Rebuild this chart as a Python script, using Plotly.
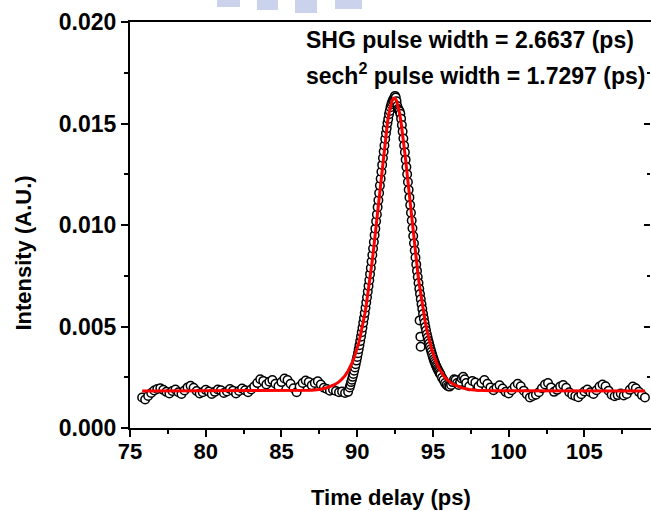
import plotly.graph_objects as go

# ---------------- data (intensity in units of 1e-5 A.U.) ----------------
time_ps = [
    75.8, 76.0, 76.2, 76.4, 76.6, 76.8, 77.0, 77.2, 77.4, 77.6, 77.8, 78.0, 78.2, 78.4, 78.6, 78.8,
    79.0, 79.2, 79.4, 79.6, 79.8, 80.0, 80.2, 80.4, 80.6, 80.8, 81.0, 81.2, 81.4, 81.6, 81.8, 82.0,
    82.2, 82.4, 82.6, 82.8, 83.0, 83.2, 83.4, 83.6, 83.8, 84.0, 84.2, 84.4, 84.6, 84.8, 85.0, 85.2,
    85.4, 85.6, 85.8, 86.0, 86.2, 86.4, 86.6, 86.8, 87.0, 87.2, 87.4, 87.6, 87.8, 88.0, 88.2, 88.4,
    88.6, 88.8, 89.0, 89.2, 89.4,
    89.50, 89.55, 89.60, 89.65, 89.70, 89.75, 89.80, 89.85, 89.90, 89.95,
    90.00, 90.05, 90.10, 90.15, 90.20, 90.25, 90.30, 90.35, 90.40, 90.45,
    90.50, 90.55, 90.60, 90.65, 90.70, 90.75, 90.80, 90.85, 90.90, 90.95,
    91.00, 91.05, 91.10, 91.15, 91.20, 91.25, 91.30, 91.35, 91.40, 91.45,
    91.50, 91.55, 91.60, 91.65, 91.70, 91.75, 91.80, 91.85, 91.90, 91.95,
    92.00, 92.05, 92.10, 92.15, 92.20, 92.25, 92.30, 92.35, 92.40, 92.45,
    92.50, 92.55, 92.60, 92.65, 92.70, 92.75, 92.80, 92.85, 92.90, 92.95,
    93.00, 93.05, 93.10, 93.15, 93.20, 93.25, 93.30, 93.35, 93.40, 93.45,
    93.50, 93.55, 93.60, 93.65, 93.70, 93.75, 93.80, 93.85, 93.90, 93.95,
    94.00, 94.05, 94.10, 94.12, 94.15, 94.17, 94.19, 94.20, 94.25, 94.30, 94.35, 94.40, 94.45,
    94.50, 94.55, 94.60, 94.65, 94.70, 94.75, 94.80, 94.85, 94.90, 94.95,
    95.00, 95.05, 95.10, 95.15, 95.20, 95.25, 95.30, 95.35, 95.40, 95.45, 95.50,
    95.6, 95.7, 95.8, 95.9, 96.0, 96.1, 96.2, 96.3, 96.4, 96.5, 96.6, 96.7, 96.8, 96.9, 97.0,
    97.1, 97.2, 97.4, 97.6, 97.8, 98.0, 98.2, 98.4, 98.6, 98.8, 99.0, 99.2, 99.4, 99.6, 99.8,
    100.0, 100.2, 100.4, 100.6, 100.8, 101.0, 101.2, 101.4, 101.6, 101.8, 102.0, 102.2, 102.4,
    102.6, 102.8, 103.0, 103.2, 103.4, 103.6, 103.8, 104.0, 104.2, 104.4, 104.6, 104.8, 105.0,
    105.2, 105.4, 105.6, 105.8, 106.0, 106.2, 106.4, 106.6, 106.8, 107.0, 107.2, 107.4, 107.6,
    107.8, 108.0, 108.2, 108.4, 108.6, 108.8, 109.0,
]
intensity_1e5 = [
    150, 140, 158, 172, 185, 192, 196, 188, 178, 170, 182, 190, 176, 168, 185, 200,
    208, 198, 182, 170, 176, 188, 180, 168, 178, 190, 186, 172, 180, 192, 184, 170,
    182, 194, 186, 176, 190, 204, 222, 240, 232, 214, 228, 236, 218, 206, 226, 244,
    236, 218, 196, 176, 204, 222, 234, 226, 210, 222, 230, 214, 198, 192, 184, 190,
    182, 176, 180, 172, 178,
    200, 212, 226, 238, 252, 266, 282, 298, 314, 332,
    350, 368, 388, 408, 428, 450, 472, 494, 518, 542,
    566, 592, 618, 644, 672, 700, 728, 758, 788, 820,
    852, 884, 916, 950, 982, 1018, 1052, 1088, 1122, 1158,
    1194, 1228, 1262, 1296, 1330, 1362, 1392, 1424, 1452, 1476,
    1502, 1522, 1546, 1562, 1580, 1594, 1604, 1614, 1620, 1628,
    1636, 1628, 1610, 1586, 1572, 1566, 1560, 1548, 1524, 1492,
    1460, 1426, 1392, 1358, 1322, 1286, 1250, 1212, 1174, 1136,
    1098, 1060, 1022, 984, 946, 910, 874, 840, 806, 774,
    744, 714, 686, 530, 660, 450, 400, 634, 610, 586, 562, 540, 518,
    498, 480, 462, 446, 430, 416, 402, 388, 376, 362,
    350, 338, 328, 318, 308, 300, 292, 284, 278, 270, 264,
    248, 236, 222, 212, 206, 204, 212, 226, 240, 236, 222, 212, 226, 244, 252,
    240, 222, 206, 232, 224, 204, 222, 236, 218, 200, 186, 198, 210, 194, 178,
    170, 186, 204, 218, 206, 184, 166, 150, 158, 164, 176, 196, 214,
    222, 200, 178, 188, 204, 212, 198, 176, 164, 158, 152, 166, 180,
    190, 176, 168, 186, 204, 214, 206, 184, 164, 156, 162, 170, 160,
    168, 188, 204, 196, 178, 162, 150,
]

# sech^2 fit curve (units of 1e-5 A.U.)
fit_time_ps = [
    75.8, 86.0, 87.0, 87.5, 88.0, 88.5, 88.8, 89.0, 89.2, 89.4,
    89.5, 89.6, 89.7, 89.8, 89.9, 90.0, 90.1, 90.2, 90.3, 90.4,
    90.5, 90.6, 90.7, 90.8, 90.9, 91.0, 91.1, 91.2, 91.3, 91.4,
    91.5, 91.6, 91.7, 91.8, 91.9, 92.0, 92.1, 92.2, 92.3, 92.4, 92.45,
    92.5, 92.6, 92.7, 92.8, 92.9, 93.0, 93.1, 93.2, 93.3, 93.4,
    93.5, 93.6, 93.7, 93.8, 93.9, 94.0, 94.1, 94.2, 94.3, 94.4,
    94.5, 94.6, 94.7, 94.8, 94.9, 95.0, 95.1, 95.2, 95.3, 95.4,
    95.5, 95.7, 95.9, 96.1, 96.4, 96.9, 97.4, 97.9, 98.9, 109.0,
]
fit_1e5 = [
    182, 183, 186, 190, 198, 213, 227, 241, 258, 281,
    294, 310, 327, 346, 368, 392, 419, 450, 483, 520,
    561, 606, 655, 708, 766, 827, 892, 961, 1032, 1105,
    1178, 1251, 1321, 1389, 1450, 1505, 1551, 1587, 1612, 1624, 1626,
    1624, 1612, 1587, 1551, 1505, 1450, 1389, 1321, 1251, 1178,
    1105, 1032, 961, 892, 827, 766, 708, 655, 606, 561,
    520, 483, 450, 419, 392, 368, 346, 327, 310, 294,
    281, 258, 241, 227, 213, 198, 190, 186, 183, 182,
]

y_ticks = [0.000, 0.005, 0.010, 0.015, 0.020]
y_tick_labels = ["0.000", "0.005", "0.010", "0.015", "0.020"]
x_ticks = [75, 80, 85, 90, 95, 100, 105]
x_tick_labels = ["75", "80", "85", "90", "95", "100", "105"]

SCALE = 1e-5
intensity = [v * SCALE for v in intensity_1e5]
fit = [v * SCALE for v in fit_1e5]

FONT = "Liberation Sans, Arial, sans-serif"

fig = go.Figure()
fig.add_trace(go.Scatter(
    x=time_ps, y=intensity, mode="markers",
    marker=dict(symbol="circle", size=8.5, color="white",
                line=dict(color="black", width=1.5)),
    showlegend=False, hoverinfo="skip",
))
fig.add_trace(go.Scatter(
    x=fit_time_ps, y=fit, mode="lines", line=dict(color="#ff0000", width=3),
    showlegend=False, hoverinfo="skip",
))
# copy of the fit on the right-hand axis (hidden) so that axis gets drawn
fig.add_trace(go.Scatter(
    x=fit_time_ps, y=fit, yaxis="y2", mode="lines", line=dict(color="rgba(0,0,0,0)", width=0),
    showlegend=False, hoverinfo="skip",
))

xtickfont = dict(family=FONT, size=22, color="black", weight="bold")
ytickfont = dict(family=FONT, size=23, color="black", weight="bold")

fig.update_layout(
    width=651, height=511,
    margin=dict(l=130, r=0, t=22, b=83),
    paper_bgcolor="white", plot_bgcolor="white",
    xaxis=dict(
        range=[75, 109.4], tickmode="array", tickvals=x_ticks, ticktext=x_tick_labels,
        showgrid=False, zeroline=False, showline=True, linecolor="black", linewidth=2,
        mirror=True, ticks="outside", ticklen=7, tickwidth=2, tickcolor="black",
        minor=dict(ticks="outside", ticklen=4, tickwidth=2, tickcolor="black", dtick=2.5, tick0=77.5, showgrid=False),
        tickfont=xtickfont, ticklabelstandoff=-4, automargin=False,
    ),
    yaxis=dict(
        range=[0, 0.020], tickmode="array", tickvals=y_ticks, ticktext=y_tick_labels,
        showgrid=False, zeroline=False, showline=True, linecolor="black", linewidth=2,
        mirror=False, ticks="outside", ticklen=7, tickwidth=2, tickcolor="black",
        minor=dict(ticks="outside", ticklen=4, tickwidth=2, tickcolor="black", dtick=0.0025, tick0=0.0025, showgrid=False),
        tickfont=ytickfont, automargin=False,
    ),
    yaxis2=dict(
        range=[0, 0.020], overlaying="y", side="right", anchor="free", position=0.999,
        showline=False, showgrid=False,
        zeroline=False, showticklabels=False, tickmode="array", tickvals=y_ticks,
        ticks="inside", ticklen=6, tickwidth=2, tickcolor="black", automargin=False,
        minor=dict(ticks="inside", ticklen=3, tickwidth=2, tickcolor="black", dtick=0.0025, tick0=0.0025, showgrid=False),
    ),
)

annot_font = dict(family=FONT, size=23, color="black", weight="bold")
title_font = dict(family=FONT, size=22, color="black", weight="bold")
fig.add_annotation(text="SHG pulse width = 2.6637 (ps)", xref="paper", yref="paper",
                   x=0.334, y=0.956, xanchor="left", yanchor="middle", showarrow=False, font=annot_font)
fig.add_annotation(text="sech<sup>2</sup> pulse width = 1.7297 (ps)", xref="paper", yref="paper",
                   x=0.334, y=0.872, xanchor="left", yanchor="middle", showarrow=False, font=annot_font)
fig.add_annotation(text="Time delay (ps)", xref="paper", yref="paper", x=0.5, y=-0.17,
                   xanchor="center", yanchor="middle", showarrow=False, font=title_font)
fig.add_annotation(text="Intensity (A.U.)", xref="paper", yref="paper", x=-0.205, y=0.43,
                   xanchor="center", yanchor="middle", textangle=-90, showarrow=False, font=title_font)

# faint watermark blocks at the top edge
for x0, x1, y1 in [(217, 240, 7), (257, 278, 10), (295, 317, 13), (335, 362, 9)]:
    fig.add_shape(type="rect", xref="paper", yref="paper",
                  x0=(x0 - 130) / 521, x1=(x1 - 130) / 521,
                  y0=(428 - y1) / 406, y1=428 / 406,
                  fillcolor="rgba(150,168,215,0.5)", line=dict(width=0), layer="below")

fig.write_html("out.html", config={"displayModeBar": False},
               post_script="document.body.style.margin='0';document.body.style.overflow='hidden';")
